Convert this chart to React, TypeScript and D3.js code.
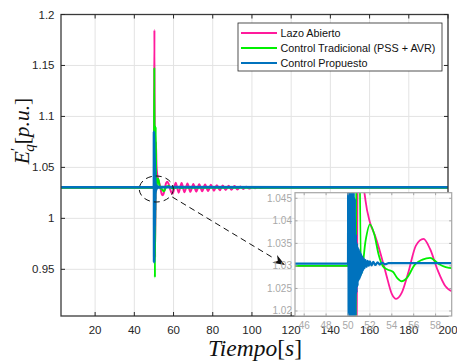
import React from "react";
import * as d3 from "d3";

// ---------- data ----------
const xTicksMain = [20, 40, 60, 80, 100, 120, 140, 160, 180, 200];
const yTicksMain = [0.95, 1, 1.05, 1.1, 1.15, 1.2];
const yTickLabelsMain = ["0.95", "1", "1.05", "1.1", "1.15", "1.2"];
const xTicksZoom = [46, 48, 50, 52, 54, 56, 58];
const yTicksZoom = [1.02, 1.025, 1.03, 1.035, 1.04, 1.045];
const yTickLabelsZoom = ["1.02", "1.025", "1.03", "1.035", "1.04", "1.045"];
const seriesNames = ["Lazo Abierto", "Control Tradicional (PSS + AVR)", "Control Propuesto"];

// Lazo Abierto (t [s], E'q [p.u.])
const lazoAbierto: [number, number][] = [
  [2.6, 1.03], [50.0, 1.03], [50.25, 1.185], [50.6, 0.962], [51.0, 1.075], [51.3, 1.052],
  [51.6, 1.0445], [52.0, 1.0397], [52.5, 1.0365], [53.0, 1.0325], [53.5, 1.028], [54.0, 1.0238],
  [54.4, 1.0227], [54.9, 1.024], [55.5, 1.0285], [56.2, 1.0345], [56.9, 1.036], [57.5, 1.0337],
  [58.2, 1.029], [58.9, 1.0255], [59.6, 1.0244], [61.1, 1.035], [62.6, 1.0252], [64.1, 1.0346],
  [65.6, 1.0256], [67.1, 1.0342], [68.6, 1.026], [70.1, 1.0338], [71.6, 1.0263], [73.1, 1.0335],
  [74.6, 1.0266], [76.1, 1.0332], [77.6, 1.0269], [79.1, 1.0329], [80.6, 1.0272], [82.1, 1.0326],
  [83.6, 1.0275], [85.1, 1.0323], [86.6, 1.0278], [88.1, 1.032], [89.6, 1.0281], [91.1, 1.0317],
  [92.6, 1.0284], [94.1, 1.0313], [95.6, 1.0288], [97.1, 1.0309], [98.6, 1.0292], [100.1, 1.0306],
  [101.6, 1.0295], [103.1, 1.0303], [104.6, 1.0298], [106.5, 1.0301], [200, 1.03],
];

// Control Tradicional (PSS + AVR)
const controlTradicional: [number, number][] = [
  [2.6, 1.03], [50.0, 1.03], [50.2, 1.148], [50.5, 0.942], [50.9, 1.09], [51.2, 1.0281],
  [51.6, 1.0355], [52.0, 1.0392], [52.4, 1.037], [52.8, 1.0325], [53.2, 1.0299], [53.6, 1.0292],
  [54.1, 1.0287], [54.5, 1.0273], [54.9, 1.0266], [55.4, 1.0274], [56.1, 1.0303], [56.8, 1.0314],
  [57.5, 1.0318], [58.25, 1.0305], [59.5, 1.0295], [60.5, 1.0297], [62.0, 1.0304], [64.0, 1.0298],
  [66.0, 1.0302], [68.0, 1.03], [200, 1.03],
];

// Control Propuesto
const controlPropuesto: [number, number][] = [
  [2.6, 1.0305], [50.0, 1.0305], [50.03, 1.085], [50.08, 0.957], [50.13, 1.075], [50.18, 0.975],
  [50.23, 1.065], [50.28, 0.985], [50.33, 1.06], [50.38, 0.992], [50.43, 1.055], [50.48, 1.0],
  [50.53, 1.05], [50.58, 1.008], [50.63, 1.045], [50.68, 1.019], [50.73, 1.037], [50.78, 1.024],
  [50.83, 1.035], [50.88, 1.0255], [50.93, 1.034], [50.98, 1.0268], [51.03, 1.0335], [51.08, 1.0272],
  [51.13, 1.033], [51.18, 1.0278], [51.23, 1.0325], [51.28, 1.0284], [51.33, 1.032], [51.38, 1.029],
  [51.45, 1.0316], [51.52, 1.0295], [51.6, 1.0313], [51.7, 1.0298], [51.8, 1.0311], [51.9, 1.03],
  [52.0, 1.031], [52.15, 1.0301], [52.3, 1.0309], [52.5, 1.0302], [52.7, 1.0308], [52.9, 1.0303],
  [53.1, 1.0307], [53.4, 1.0304], [53.7, 1.0306], [200, 1.0305],
];

const colors = ["#FF1A9C", "#00F000", "#0072BD"];

// ---------- layout ----------
const W = 457;
const H = 362;
const main = { left: 61, right: 448, top: 14.5, bottom: 316 };
const inset = { left: 295, right: 451.7, top: 192.7, bottom: 316 };

export default function App() {
  const x = d3.scaleLinear().domain([2.6, 200]).range([main.left, main.right]);
  const y = d3.scaleLinear().domain([0.9042, 1.2]).range([main.bottom, main.top]);
  const xi = d3.scaleLinear().domain([45.16, 59.47]).range([inset.left, inset.right]);
  const yi = d3.scaleLinear().domain([1.01889, 1.04624]).range([inset.bottom, inset.top]);

  const series = [lazoAbierto, controlTradicional, controlPropuesto];
  const lineMain = d3
    .line<[number, number]>()
    .x((d) => x(d[0]))
    .y((d) => y(d[1]))
    .curve(d3.curveMonotoneX);
  const lineZoom = d3
    .line<[number, number]>()
    .x((d) => xi(d[0]))
    .y((d) => yi(d[1]))
    .curve(d3.curveMonotoneX);

  const tickColor = "#262626";
  const gridColor = "#e3e3e3";
  const fontSans = "'Liberation Sans', Arial, Helvetica, sans-serif";
  const fontSerif = "'Liberation Serif', 'Times New Roman', serif";

  // ellipse + arrow annotation (in main data coords)
  const ex = x(51.2);
  const ey = y(1.0288);
  const arrowStart: [number, number] = [ex + 16, ey + 8];
  const arrowTip: [number, number] = [inset.left - 10, yi(1.0302)];
  const ang = Math.atan2(arrowTip[1] - arrowStart[1], arrowTip[0] - arrowStart[0]);
  const ah = 12;
  const aw = 4.5;
  const bx = arrowTip[0] - ah * Math.cos(ang);
  const by = arrowTip[1] - ah * Math.sin(ang);
  const headPts = [
    arrowTip,
    [bx + aw * Math.sin(ang), by - aw * Math.cos(ang)],
    [arrowTip[0] - ah * 0.7 * Math.cos(ang), arrowTip[1] - ah * 0.7 * Math.sin(ang)],
    [bx - aw * Math.sin(ang), by + aw * Math.cos(ang)],
  ]
    .map((p) => p.join(","))
    .join(" ");

  return (
    <svg
      width={W}
      height={H}
      style={{ position: "absolute", left: 0, top: 0, background: "#fff" }}
      fontFamily={fontSans}
    >
      <defs>
        <clipPath id="clipMain">
          <rect x={main.left} y={main.top} width={main.right - main.left} height={main.bottom - main.top} />
        </clipPath>
        <clipPath id="clipZoom">
          <rect x={inset.left} y={inset.top} width={inset.right - inset.left} height={inset.bottom - inset.top} />
        </clipPath>
      </defs>
      <rect x={0} y={0} width={W} height={H} fill="#fff" />

      {/* main grid */}
      {xTicksMain.map((t) => (
        <line key={"gx" + t} x1={x(t)} x2={x(t)} y1={main.top} y2={main.bottom} stroke={gridColor} strokeWidth={1} />
      ))}
      {yTicksMain.map((t) => (
        <line key={"gy" + t} x1={main.left} x2={main.right} y1={y(t)} y2={y(t)} stroke={gridColor} strokeWidth={1} />
      ))}

      {/* main lines */}
      <g clipPath="url(#clipMain)">
        {series.map((s, i) => (
          <path
            key={"m" + i}
            d={lineMain(s) || ""}
            fill="none"
            stroke={colors[i]}
            strokeWidth={i === 2 ? 2.6 : 2}
            strokeLinejoin="round"
          />
        ))}
      </g>

      {/* main axes box & ticks */}
      <rect
        x={main.left}
        y={main.top}
        width={main.right - main.left}
        height={main.bottom - main.top}
        fill="none"
        stroke="#3a3a3a"
        strokeWidth={1.3}
      />
      {xTicksMain.map((t) => (
        <g key={"tx" + t}>
          <line x1={x(t)} x2={x(t)} y1={main.bottom} y2={main.bottom - 4} stroke={tickColor} />
          <line x1={x(t)} x2={x(t)} y1={main.top} y2={main.top + 4} stroke={tickColor} />
          <text x={x(t)} y={334} textAnchor="middle" fontSize={11.5} fill={tickColor}>
            {t}
          </text>
        </g>
      ))}
      {yTicksMain.map((t, i) => (
        <g key={"ty" + t}>
          <line x1={main.left} x2={main.left + 4} y1={y(t)} y2={y(t)} stroke={tickColor} />
          <line x1={main.right} x2={main.right - 4} y1={y(t)} y2={y(t)} stroke={tickColor} />
          <text x={54.5} y={y(t) + 4} textAnchor="end" fontSize={11.5} fill={tickColor}>
            {yTickLabelsMain[i]}
          </text>
        </g>
      ))}

      {/* axis labels */}
      <text
        x={255}
        y={356}
        textAnchor="middle"
        fontFamily={fontSerif}
        fontSize={23.5}
        fill="#111"
      >
        <tspan fontStyle="italic">Tiempo</tspan>
        <tspan>[</tspan>
        <tspan fontStyle="italic">s</tspan>
        <tspan>]</tspan>
      </text>
      <text
        x={0}
        y={0}
        transform={`translate(29,131) rotate(-90)`}
        textAnchor="middle"
        fontFamily={fontSerif}
        fontSize={21.5}
        fill="#111"
      >
        <tspan fontStyle="italic">E</tspan>
        <tspan fontSize={15} dy={-8}>′</tspan>
        <tspan fontStyle="italic" fontSize={15} dy={13} dx={-4}>q</tspan>
        <tspan dy={-5}>[</tspan>
        <tspan fontStyle="italic">p.u.</tspan>
        <tspan>]</tspan>
      </text>

      {/* legend */}
      <g>
        <rect x={238} y={23} width={204} height={48} fill="#fff" stroke="#262626" strokeWidth={0.8} />
        {seriesNames.map((n, i) => (
          <g key={"lg" + i}>
            <line x1={241} x2={277} y1={33 + i * 15} y2={33 + i * 15} stroke={colors[i]} strokeWidth={2} />
            <text x={280.5} y={33 + i * 15 + 3.8} fontSize={10.8} fill="#111">
              {n}
            </text>
          </g>
        ))}
      </g>

      {/* annotation: ellipse and dashed arrow */}
      <ellipse cx={ex} cy={ey} rx={17} ry={13} fill="none" stroke="#111" strokeWidth={1} strokeDasharray="6,4" />
      <line
        x1={arrowStart[0]}
        y1={arrowStart[1]}
        x2={bx}
        y2={by}
        stroke="#111"
        strokeWidth={1}
        strokeDasharray="6,4"
      />
      <polygon points={headPts} fill="#111" />

      {/* inset */}
      <rect
        x={inset.left}
        y={inset.top}
        width={inset.right - inset.left}
        height={inset.bottom - inset.top}
        fill="#fff"
      />
      {xTicksZoom.map((t) => (
        <line key={"zgx" + t} x1={xi(t)} x2={xi(t)} y1={inset.top} y2={inset.bottom} stroke="#ececec" />
      ))}
      {yTicksZoom.map((t) => (
        <line key={"zgy" + t} x1={inset.left} x2={inset.right} y1={yi(t)} y2={yi(t)} stroke="#ececec" />
      ))}
      <g clipPath="url(#clipZoom)">
        {series.map((s, i) => (
          <path
            key={"z" + i}
            d={lineZoom(s) || ""}
            fill="none"
            stroke={colors[i]}
            strokeWidth={i === 2 ? 2.2 : 1.8}
            strokeLinejoin="round"
          />
        ))}
      </g>
      <rect
        x={inset.left}
        y={inset.top}
        width={inset.right - inset.left}
        height={inset.bottom - inset.top}
        fill="none"
        stroke="#a6a6a6"
        strokeWidth={1.2}
      />
      {xTicksZoom.map((t) => (
        <g key={"ztx" + t}>
          <line x1={xi(t)} x2={xi(t)} y1={inset.bottom} y2={inset.bottom - 2.5} stroke="#a6a6a6" />
          <line x1={xi(t)} x2={xi(t)} y1={inset.top} y2={inset.top + 2.5} stroke="#a6a6a6" />
          <text x={xi(t)} y={329} textAnchor="middle" fontSize={10} fill="#a8a8a8">
            {t}
          </text>
        </g>
      ))}
      {yTicksZoom.map((t, i) => (
        <g key={"zty" + t}>
          <line x1={inset.left} x2={inset.left + 2.5} y1={yi(t)} y2={yi(t)} stroke="#a6a6a6" />
          <line x1={inset.right} x2={inset.right - 2.5} y1={yi(t)} y2={yi(t)} stroke="#a6a6a6" />
          <text x={292} y={yi(t) + 3.5} textAnchor="end" fontSize={10} fill="#a8a8a8">
            {yTickLabelsZoom[i]}
          </text>
        </g>
      ))}
    </svg>
  );
}
